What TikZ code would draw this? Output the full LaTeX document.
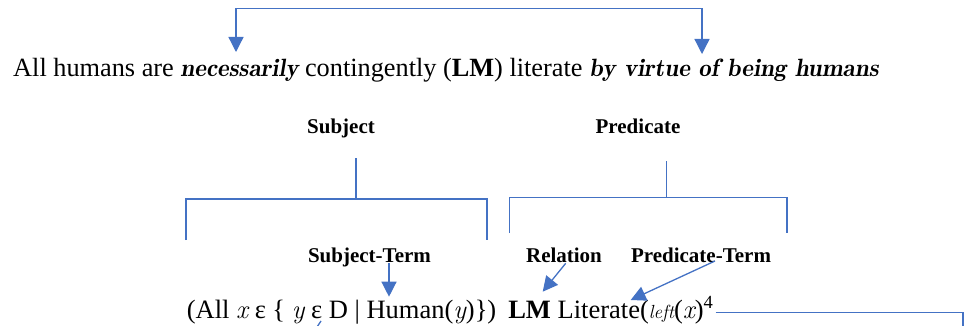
\documentclass[tikz,border=0pt]{standalone}
\usepackage{fontspec}
\setmainfont{Liberation Serif}
\newcommand\myit[1]{{\fontfamily{lmr}\selectfont\itshape #1}}
\newcommand\mybi[1]{{\fontfamily{lmr}\fontsize{25}{30}\selectfont\bfseries\itshape #1}}
\usetikzlibrary{arrows.meta}
\definecolor{lineblue}{HTML}{4472C4}
\begin{document}
\begin{tikzpicture}[x=1pt,y=-1pt,
  blueline/.style={draw=lineblue, line width=1.3pt},
  arr/.style={blueline, -{Triangle[width=15pt,length=15pt]}},
  arrs/.style={blueline, {Triangle[width=15pt,length=15pt]}-{Triangle[width=15pt,length=15pt]}},
  bigtext/.style={inner sep=0pt, anchor=base west, font=\fontsize{26.3}{30}\selectfont},
  lbl/.style={inner sep=0pt, anchor=base, font=\fontsize{21}{25}\selectfont\bfseries}]
\useasboundingbox (0,0) rectangle (974,326);
% main sentence
\node[bigtext] (sent) at (13,77) {All humans are \mybi{necessarily} contingently (\textbf{LM}) literate \mybi{by virtue of being humans}};
\coordinate (tipL) at (236,52);
\coordinate (tipR) at (702,54);
\draw[arrs] (tipL) -- (236,8.3) -- (702,8.3) -- (tipR);
% labels
\node[lbl] (subj) at (341,133) {Subject};
\node[lbl] (pred) at (638,133) {Predicate};
\node[lbl] (subjterm) at (369.5,262) {Subject-Term};
\node[lbl] (rel) at (564,262) {Relation};
\node[lbl] (predterm) at (701,262) {Predicate-Term};
% brackets
\coordinate (sa) at (356,158);
\coordinate (sb) at (356,199);
\coordinate (sl) at (186,240);
\coordinate (sr) at (487,240);
\draw[blueline] (sa) -- (sb);
\draw[blueline] (sl) |- (sb) -| (sr);
\coordinate (pa) at (666.5,161);
\coordinate (pb) at (666.5,197.3);
\coordinate (pl) at (509.3,233);
\coordinate (pr) at (787,233);
\draw[blueline] (pa) -- (pb);
\draw[blueline] (pl) |- (pb) -| (pr);
% formula
\node[bigtext, font=\fontsize{26.5}{30}\selectfont] (form) at (186.7,318) {(All \myit{x} ε \{ \myit{y} ε D | Human(\myit{y})\})\hspace{12pt}\textbf{LM} Literate(\myit{\fontsize{19}{20}\selectfont left}(\myit{x})\textsuperscript{4}};
% arrows to formula
\coordinate (sttip) at (389,296.7);
\coordinate (reltip) at (542.7,291.7);
\coordinate (pttip) at (630.7,300);
\draw[arr] ([xshift=19.5pt,yshift=-1pt]subjterm.base) -- (sttip);
\draw[arr] ([xshift=1.7pt,yshift=-1.3pt]rel.base) -- (reltip);
\draw[arr] ([xshift=14pt,yshift=1pt]predterm.base) -- (pttip);
% line from formula end
\coordinate (fr) at (963,327);
\draw[blueline] ([xshift=2pt,yshift=5.3pt]form.base east) -| (fr);
% fragment below epsilon
\coordinate (fa) at (321,321);
\coordinate (fb) at (317,327);
\draw[blueline] (fa) -- (fb);
\end{tikzpicture}
\end{document}
